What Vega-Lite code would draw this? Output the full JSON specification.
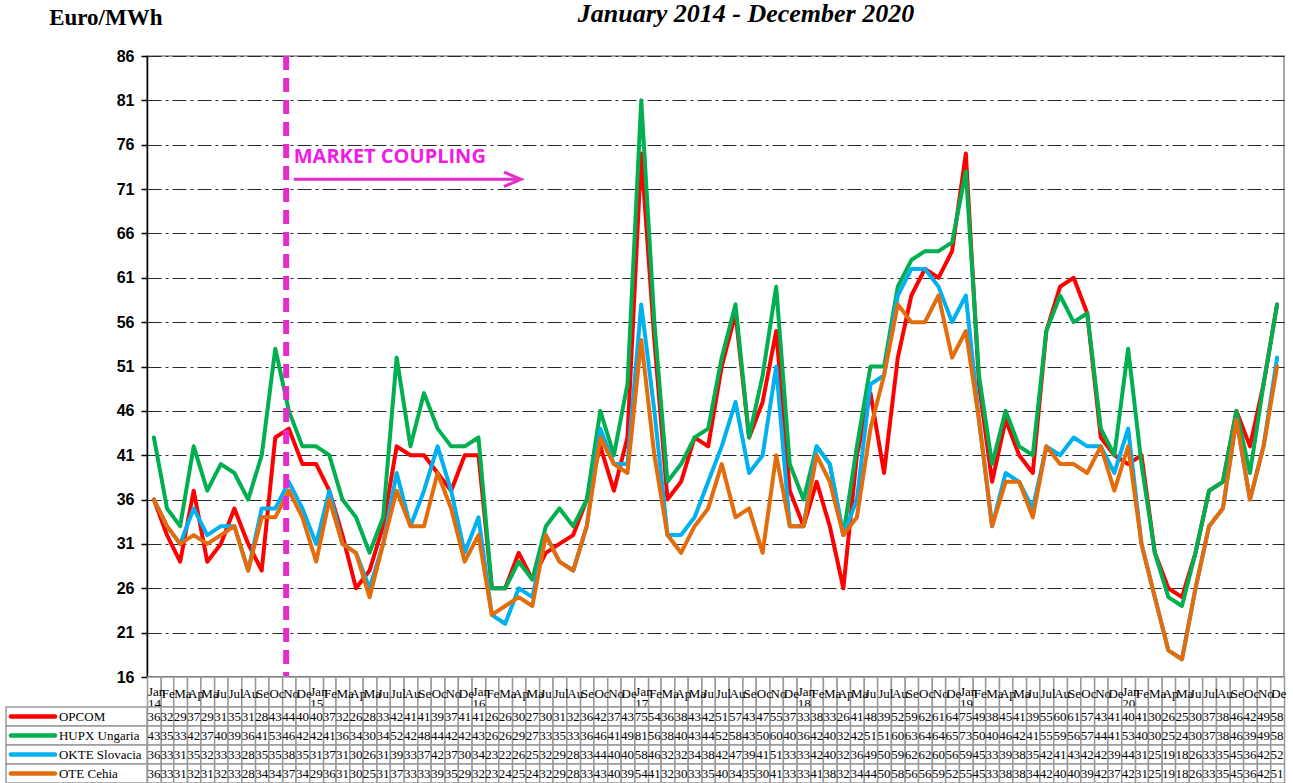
{
  "$schema": "https://vega.github.io/schema/vega-lite/v6.json",
  "background": "white",
  "padding": {"left": 5, "top": 0, "right": 5, "bottom": 0},
  "config": {"font": "Liberation Serif", "view": {"stroke": null}, "axisX": {"disable": true}},
  "spacing": 0,
  "bounds": "flush",
  "resolve": {"scale": {"x": "independent", "y": "independent", "color": "independent"}},
  "datasets": {
    "prices": [
      {"d":"2014-01","OPCOM":36,"HUPX":43,"OKTE":36,"OTE":36},
      {"d":"2014-02","OPCOM":32,"HUPX":35,"OKTE":33,"OTE":33},
      {"d":"2014-03","OPCOM":29,"HUPX":33,"OKTE":31,"OTE":31},
      {"d":"2014-04","OPCOM":37,"HUPX":42,"OKTE":35,"OTE":32},
      {"d":"2014-05","OPCOM":29,"HUPX":37,"OKTE":32,"OTE":31},
      {"d":"2014-06","OPCOM":31,"HUPX":40,"OKTE":33,"OTE":32},
      {"d":"2014-07","OPCOM":35,"HUPX":39,"OKTE":33,"OTE":33},
      {"d":"2014-08","OPCOM":31,"HUPX":36,"OKTE":28,"OTE":28},
      {"d":"2014-09","OPCOM":28,"HUPX":41,"OKTE":35,"OTE":34},
      {"d":"2014-10","OPCOM":43,"HUPX":53,"OKTE":35,"OTE":34},
      {"d":"2014-11","OPCOM":44,"HUPX":46,"OKTE":38,"OTE":37},
      {"d":"2014-12","OPCOM":40,"HUPX":42,"OKTE":35,"OTE":34},
      {"d":"2015-01","OPCOM":40,"HUPX":42,"OKTE":31,"OTE":29},
      {"d":"2015-02","OPCOM":37,"HUPX":41,"OKTE":37,"OTE":36},
      {"d":"2015-03","OPCOM":32,"HUPX":36,"OKTE":31,"OTE":31},
      {"d":"2015-04","OPCOM":26,"HUPX":34,"OKTE":30,"OTE":30},
      {"d":"2015-05","OPCOM":28,"HUPX":30,"OKTE":26,"OTE":25},
      {"d":"2015-06","OPCOM":33,"HUPX":34,"OKTE":31,"OTE":31},
      {"d":"2015-07","OPCOM":42,"HUPX":52,"OKTE":39,"OTE":37},
      {"d":"2015-08","OPCOM":41,"HUPX":42,"OKTE":33,"OTE":33},
      {"d":"2015-09","OPCOM":41,"HUPX":48,"OKTE":37,"OTE":33},
      {"d":"2015-10","OPCOM":39,"HUPX":44,"OKTE":42,"OTE":39},
      {"d":"2015-11","OPCOM":37,"HUPX":42,"OKTE":37,"OTE":35},
      {"d":"2015-12","OPCOM":41,"HUPX":42,"OKTE":30,"OTE":29},
      {"d":"2016-01","OPCOM":41,"HUPX":43,"OKTE":34,"OTE":32},
      {"d":"2016-02","OPCOM":26,"HUPX":26,"OKTE":23,"OTE":23},
      {"d":"2016-03","OPCOM":26,"HUPX":26,"OKTE":22,"OTE":24},
      {"d":"2016-04","OPCOM":30,"HUPX":29,"OKTE":26,"OTE":25},
      {"d":"2016-05","OPCOM":27,"HUPX":27,"OKTE":25,"OTE":24},
      {"d":"2016-06","OPCOM":30,"HUPX":33,"OKTE":32,"OTE":32},
      {"d":"2016-07","OPCOM":31,"HUPX":35,"OKTE":29,"OTE":29},
      {"d":"2016-08","OPCOM":32,"HUPX":33,"OKTE":28,"OTE":28},
      {"d":"2016-09","OPCOM":36,"HUPX":36,"OKTE":33,"OTE":33},
      {"d":"2016-10","OPCOM":42,"HUPX":46,"OKTE":44,"OTE":43},
      {"d":"2016-11","OPCOM":37,"HUPX":41,"OKTE":40,"OTE":40},
      {"d":"2016-12","OPCOM":43,"HUPX":49,"OKTE":40,"OTE":39},
      {"d":"2017-01","OPCOM":75,"HUPX":81,"OKTE":58,"OTE":54},
      {"d":"2017-02","OPCOM":54,"HUPX":56,"OKTE":46,"OTE":41},
      {"d":"2017-03","OPCOM":36,"HUPX":38,"OKTE":32,"OTE":32},
      {"d":"2017-04","OPCOM":38,"HUPX":40,"OKTE":32,"OTE":30},
      {"d":"2017-05","OPCOM":43,"HUPX":43,"OKTE":34,"OTE":33},
      {"d":"2017-06","OPCOM":42,"HUPX":44,"OKTE":38,"OTE":35},
      {"d":"2017-07","OPCOM":51,"HUPX":52,"OKTE":42,"OTE":40},
      {"d":"2017-08","OPCOM":57,"HUPX":58,"OKTE":47,"OTE":34},
      {"d":"2017-09","OPCOM":43,"HUPX":43,"OKTE":39,"OTE":35},
      {"d":"2017-10","OPCOM":47,"HUPX":50,"OKTE":41,"OTE":30},
      {"d":"2017-11","OPCOM":55,"HUPX":60,"OKTE":51,"OTE":41},
      {"d":"2017-12","OPCOM":37,"HUPX":40,"OKTE":33,"OTE":33},
      {"d":"2018-01","OPCOM":33,"HUPX":36,"OKTE":33,"OTE":33},
      {"d":"2018-02","OPCOM":38,"HUPX":42,"OKTE":42,"OTE":41},
      {"d":"2018-03","OPCOM":33,"HUPX":40,"OKTE":40,"OTE":38},
      {"d":"2018-04","OPCOM":26,"HUPX":32,"OKTE":32,"OTE":32},
      {"d":"2018-05","OPCOM":41,"HUPX":42,"OKTE":36,"OTE":34},
      {"d":"2018-06","OPCOM":48,"HUPX":51,"OKTE":49,"OTE":44},
      {"d":"2018-07","OPCOM":39,"HUPX":51,"OKTE":50,"OTE":50},
      {"d":"2018-08","OPCOM":52,"HUPX":60,"OKTE":59,"OTE":58},
      {"d":"2018-09","OPCOM":59,"HUPX":63,"OKTE":62,"OTE":56},
      {"d":"2018-10","OPCOM":62,"HUPX":64,"OKTE":62,"OTE":56},
      {"d":"2018-11","OPCOM":61,"HUPX":64,"OKTE":60,"OTE":59},
      {"d":"2018-12","OPCOM":64,"HUPX":65,"OKTE":56,"OTE":52},
      {"d":"2019-01","OPCOM":75,"HUPX":73,"OKTE":59,"OTE":55},
      {"d":"2019-02","OPCOM":49,"HUPX":50,"OKTE":45,"OTE":45},
      {"d":"2019-03","OPCOM":38,"HUPX":40,"OKTE":33,"OTE":33},
      {"d":"2019-04","OPCOM":45,"HUPX":46,"OKTE":39,"OTE":38},
      {"d":"2019-05","OPCOM":41,"HUPX":42,"OKTE":38,"OTE":38},
      {"d":"2019-06","OPCOM":39,"HUPX":41,"OKTE":35,"OTE":34},
      {"d":"2019-07","OPCOM":55,"HUPX":55,"OKTE":42,"OTE":42},
      {"d":"2019-08","OPCOM":60,"HUPX":59,"OKTE":41,"OTE":40},
      {"d":"2019-09","OPCOM":61,"HUPX":56,"OKTE":43,"OTE":40},
      {"d":"2019-10","OPCOM":57,"HUPX":57,"OKTE":42,"OTE":39},
      {"d":"2019-11","OPCOM":43,"HUPX":44,"OKTE":42,"OTE":42},
      {"d":"2019-12","OPCOM":41,"HUPX":41,"OKTE":39,"OTE":37},
      {"d":"2020-01","OPCOM":40,"HUPX":53,"OKTE":44,"OTE":42},
      {"d":"2020-02","OPCOM":41,"HUPX":40,"OKTE":31,"OTE":31},
      {"d":"2020-03","OPCOM":30,"HUPX":30,"OKTE":25,"OTE":25},
      {"d":"2020-04","OPCOM":26,"HUPX":25,"OKTE":19,"OTE":19},
      {"d":"2020-05","OPCOM":25,"HUPX":24,"OKTE":18,"OTE":18},
      {"d":"2020-06","OPCOM":30,"HUPX":30,"OKTE":26,"OTE":26},
      {"d":"2020-07","OPCOM":37,"HUPX":37,"OKTE":33,"OTE":33},
      {"d":"2020-08","OPCOM":38,"HUPX":38,"OKTE":35,"OTE":35},
      {"d":"2020-09","OPCOM":46,"HUPX":46,"OKTE":45,"OTE":45},
      {"d":"2020-10","OPCOM":42,"HUPX":39,"OKTE":36,"OTE":36},
      {"d":"2020-11","OPCOM":49,"HUPX":49,"OKTE":42,"OTE":42},
      {"d":"2020-12","OPCOM":58,"HUPX":58,"OKTE":52,"OTE":51}
    ],
    "legend": [
      {"s":"OPCOM","label":"OPCOM"},
      {"s":"HUPX","label":"HUPX  Ungaria"},
      {"s":"OKTE","label":"OKTE Slovacia"},
      {"s":"OTE","label":"OTE Cehia"}
    ]
  },
  "vconcat": [
    {
      "width": 1137,
      "height": 621,
      "view": {"stroke": "#8c8c8c", "strokeWidth": 1.5},
      "layer": [
        {
          "data": {"name": "prices"},
          "transform": [{"fold": ["OPCOM", "HUPX", "OKTE", "OTE"], "as": ["s", "v"]}],
          "mark": {"type": "line", "strokeWidth": 4, "strokeJoin": "round", "strokeCap": "round"},
          "encoding": {
            "x": {"field": "d", "type": "temporal", "timeUnit": "utcyearmonth", "bandPosition": 0.5,
              "scale": {"type": "utc", "domain": [{"year": 2014, "month": 1, "date": 1, "utc": true}, {"year": 2021, "month": 1, "date": 1, "utc": true}], "nice": false, "padding": 0},
              "axis": null},
            "y": {"field": "v", "type": "quantitative",
              "scale": {"domain": [16, 86], "nice": false, "zero": false},
              "axis": {"values": [16, 21, 26, 31, 36, 41, 46, 51, 56, 61, 66, 71, 76, 81, 86], "title": null,
                "labelFont": "Liberation Sans", "labelFontSize": 16, "labelFontWeight": "bold", "labelColor": "black", "labelPadding": 7,
                "tickSize": 6, "tickColor": "black", "tickWidth": 1.5, "domainColor": "black", "domainWidth": 1.5,
                "grid": true, "gridColor": "#2a2a2a", "gridDash": [14, 4, 3, 4], "gridWidth": 1.2}},
            "color": {"field": "s", "type": "nominal",
              "scale": {"domain": ["OPCOM", "HUPX", "OKTE", "OTE"], "range": ["#FF0000", "#00B050", "#00B0F0", "#E46C0A"]},
              "legend": null}
          }
        },
        {
          "data": {"values": [{}]},
          "mark": {"type": "rule", "color": "black", "strokeWidth": 1.5},
          "encoding": {"y": {"datum": 16, "type": "quantitative"}}
        },
        {
          "data": {"values": [{}]},
          "mark": {"type": "rule", "color": "#E62BCB", "strokeWidth": 6, "strokeDash": [14, 8]},
          "encoding": {"x": {"datum": {"year": 2014, "month": 11, "date": 10, "utc": true}, "type": "temporal"}}
        },
        {
          "data": {"values": [{}]},
          "mark": {"type": "rule", "color": "#E62BCB", "strokeWidth": 3},
          "encoding": {
            "x": {"datum": {"year": 2014, "month": 11, "date": 27, "utc": true}, "type": "temporal"},
            "x2": {"datum": {"year": 2016, "month": 4, "date": 18, "utc": true}},
            "y": {"datum": 72.1, "type": "quantitative"}
          }
        },
        {
          "data": {"values": [{}]},
          "mark": {"type": "point", "shape": "M-2,-0.85L0,0L-2,0.85", "filled": false, "stroke": "#E62BCB", "strokeWidth": 3, "size": 290, "opacity": 1},
          "encoding": {
            "x": {"datum": {"year": 2016, "month": 4, "date": 21, "utc": true}, "type": "temporal"},
            "y": {"datum": 72.1, "type": "quantitative"}
          }
        },
        {
          "data": {"values": [{"t": "MARKET COUPLING"}]},
          "mark": {"type": "text", "align": "left", "baseline": "middle", "font": "Open Sans", "fontSize": 20, "fontWeight": "bold", "color": "#F01CE4"},
          "encoding": {
            "x": {"datum": {"year": 2014, "month": 11, "date": 27, "utc": true}, "type": "temporal"},
            "y": {"datum": 74.6, "type": "quantitative"},
            "text": {"field": "t"}
          }
        },
        {
          "data": {"values": [{"t": "January 2014 - December 2020"}]},
          "mark": {"type": "text", "align": "center", "baseline": "alphabetic", "font": "Liberation Serif", "fontSize": 26, "fontWeight": "bold", "fontStyle": "italic", "color": "black"},
          "encoding": {
            "x": {"datum": {"year": 2017, "month": 9, "date": 9, "utc": true}, "type": "temporal"},
            "y": {"datum": 89.78, "type": "quantitative"},
            "text": {"field": "t"}
          }
        },
        {
          "data": {"values": [{"t": "Euro/MWh"}]},
          "mark": {"type": "text", "align": "left", "baseline": "alphabetic", "font": "Liberation Serif", "fontSize": 23, "fontWeight": "bold", "color": "black"},
          "encoding": {
            "x": {"datum": {"year": 2013, "month": 5, "date": 26, "utc": true}, "type": "temporal"},
            "y": {"datum": 89.5, "type": "quantitative"},
            "text": {"field": "t"}
          }
        }
      ]
    },
    {
      "width": 1137,
      "height": 30,
      "data": {"name": "prices"},
      "layer": [
        {
          "mark": {"type": "rect", "fill": "white", "stroke": "#999999", "strokeWidth": 1.5},
          "encoding": {
            "x": {"field": "d", "type": "temporal", "timeUnit": "utcyearmonth",
              "scale": {"type": "utc", "domain": [{"year": 2014, "month": 1, "date": 1, "utc": true}, {"year": 2021, "month": 1, "date": 1, "utc": true}], "nice": false, "padding": 0},
              "axis": null}
          }
        },
        {
          "transform": [{"filter": "utcmonth(datum.d) != 0"}],
          "mark": {"type": "text", "align": "left", "baseline": "middle", "dx": 1, "dy": 2, "font": "Liberation Serif", "fontSize": 13, "limit": 18, "ellipsis": "\u200b", "color": "black"},
          "encoding": {
            "x": {"field": "d", "type": "temporal", "timeUnit": "utcyearmonth", "bandPosition": 0},
            "text": {"field": "d", "type": "temporal", "timeUnit": "utcyearmonth", "format": "%b"}
          }
        },
        {
          "transform": [{"filter": "utcmonth(datum.d) == 0"}],
          "mark": {"type": "text", "align": "left", "baseline": "middle", "dx": 1, "font": "Liberation Serif", "fontSize": 13, "lineBreak": "\n", "lineHeight": 12, "color": "black"},
          "encoding": {
            "x": {"field": "d", "type": "temporal", "timeUnit": "utcyearmonth", "bandPosition": 0},
            "text": {"field": "d", "type": "temporal", "timeUnit": "utcyearmonth", "format": "%b\n%y"}
          }
        }
      ]
    },
    {
      "width": 1137,
      "height": 76,
      "layer": [
        {
          "data": {"name": "prices"},
          "transform": [{"fold": ["OPCOM", "HUPX", "OKTE", "OTE"], "as": ["s", "v"]}],
          "mark": {"type": "rect", "fill": "white", "stroke": "#999999", "strokeWidth": 1.5},
          "encoding": {
            "x": {"field": "d", "type": "temporal", "timeUnit": "utcyearmonth",
              "scale": {"type": "utc", "domain": [{"year": 2014, "month": 1, "date": 1, "utc": true}, {"year": 2021, "month": 1, "date": 1, "utc": true}], "nice": false, "padding": 0},
              "axis": null},
            "y": {"field": "s", "type": "nominal", "scale": {"type": "band", "domain": ["OPCOM", "HUPX", "OKTE", "OTE"], "paddingInner": 0, "paddingOuter": 0}, "axis": null}
          }
        },
        {
          "data": {"name": "prices"},
          "transform": [{"fold": ["OPCOM", "HUPX", "OKTE", "OTE"], "as": ["s", "v"]}],
          "mark": {"type": "text", "baseline": "middle", "align": "center", "font": "Liberation Serif", "fontSize": 13, "color": "black"},
          "encoding": {
            "x": {"field": "d", "type": "temporal", "timeUnit": "utcyearmonth", "bandPosition": 0.5},
            "y": {"field": "s", "type": "nominal"},
            "text": {"field": "v", "type": "quantitative", "format": ".0f"}
          }
        },
        {
          "data": {"name": "legend"},
          "mark": {"type": "rect", "fill": "white", "stroke": "#999999", "strokeWidth": 1.5},
          "encoding": {
            "x": {"datum": {"year": 2013, "month": 2, "date": 18, "utc": true}, "type": "temporal"},
            "x2": {"datum": {"year": 2014, "month": 1, "date": 1, "utc": true}},
            "y": {"field": "s", "type": "nominal"}
          }
        },
        {
          "data": {"name": "legend"},
          "mark": {"type": "rule", "strokeWidth": 4.5, "strokeCap": "round"},
          "encoding": {
            "x": {"datum": {"year": 2013, "month": 3, "date": 1, "utc": true}, "type": "temporal"},
            "x2": {"datum": {"year": 2013, "month": 6, "date": 8, "utc": true}},
            "y": {"field": "s", "type": "nominal", "bandPosition": 0.5},
            "color": {"field": "s", "type": "nominal",
              "scale": {"domain": ["OPCOM", "HUPX", "OKTE", "OTE"], "range": ["#FF0000", "#00B050", "#00B0F0", "#E46C0A"]},
              "legend": null}
          }
        },
        {
          "data": {"name": "legend"},
          "mark": {"type": "text", "align": "left", "baseline": "middle", "font": "Liberation Serif", "fontSize": 13, "color": "black"},
          "encoding": {
            "x": {"datum": {"year": 2013, "month": 6, "date": 17, "utc": true}, "type": "temporal"},
            "y": {"field": "s", "type": "nominal"},
            "text": {"field": "label"}
          }
        }
      ]
    }
  ]
}
